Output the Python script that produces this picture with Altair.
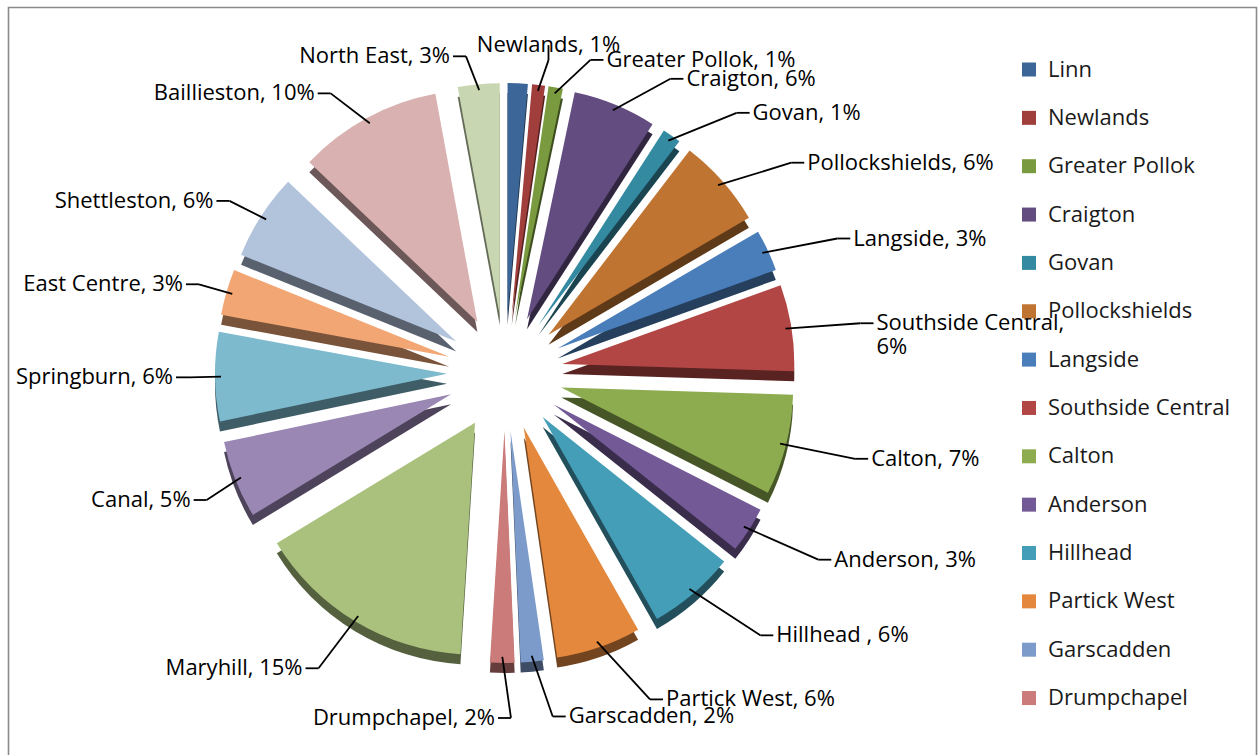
import altair as alt
import pandas as pd

# ---- data ----
names = ["Linn", "Newlands", "Greater Pollok", "Craigton", "Govan", "Pollockshields",
         "Langside", "Southside Central", "Calton", "Anderson", "Hillhead ", "Partick West",
         "Garscadden", "Drumpchapel", "Maryhill", "Canal", "Springburn", "East Centre",
         "Shettleston", "Baillieston", "North East"]
values = [1.4, 0.9, 1.0, 5.8, 1.3, 6.2,
          2.9, 6.0, 7.0, 3.2, 6.1, 5.9,
          1.6, 1.7, 15.3, 5.4, 6.2, 3.2,
          6.0, 10.0, 2.9]
legend_names = names[:14]

# ---- styles ----
face_colors = ["#3D6698", "#A03E3C", "#7A9A3F", "#634C80", "#348AA1", "#BF7432",
               "#4A7EBB", "#B24644", "#8DAC4F", "#735A97", "#449EB7", "#E4883E",
               "#7C9BCB", "#CB7B79", "#A9C17C", "#9A87B4", "#7EBACE", "#F2A674",
               "#B2C3DC", "#D9B1B0", "#C8D7B1"]


def darken(hexcol, f=0.5):
    h = hexcol.lstrip("#")
    r, g, b = (int(h[i:i + 2], 16) for i in (0, 2, 4))
    return "#%02X%02X%02X" % (int(r * f), int(g * f), int(b * f))


side_colors = [darken(c, 0.5) for c in face_colors]

CX, CY = 505, 373
R = 232
D = 58
DEPTH = 10
RXR, RXLEFT = 375, 332
RYTOP, RYBOT = 318, 345
FONT = "Open Sans"
FS = 22

df = pd.DataFrame({"name": names, "value": values, "order": list(range(len(names)))})

base = (
    alt.Chart(df)
    .transform_joinaggregate(total="sum(value)")
    .transform_window(cum="sum(value)", sort=[alt.SortField("order", order="ascending")], frame=[None, 0])
    .transform_calculate(a0="2*PI*(datum.cum - datum.value)/datum.total")
    .transform_calculate(a1="2*PI*datum.cum/datum.total")
    .transform_calculate(mid="(datum.a0 + datum.a1)/2")
    .transform_calculate(sn="sin(datum.mid)")
    .transform_calculate(cs="cos(datum.mid)")
    .transform_calculate(px=f"{CX} + {D}*datum.sn")
    .transform_calculate(py=f"{CY} - {D}*datum.cs")
    .transform_calculate(pys=f"{CY + DEPTH} - {D}*datum.cs")
    .transform_calculate(ex=f"{CX} + {D + R - 6}*datum.sn")
    .transform_calculate(ey=f"{CY} - {D + R - 6}*datum.cs")
    .transform_calculate(
        s="datum.cs < 0 ? (datum.sn >= 0 ? 1 : -1) : "
          "(datum.sn > 0.13 ? 1 : (datum.sn < -0.05 ? -1 : 0))"
    )
    .transform_calculate(
        lx=f"datum.s == 0 ? {CX} + {RXR}*datum.sn : "
           f"{CX} + (datum.sn >= 0 ? {RXR} : -{RXLEFT})*pow(abs(datum.sn), 0.75)"
    )
    .transform_calculate(
        ly=f"{CY} - (datum.cs > 0 ? {RYTOP} : {RYBOT})*datum.cs - (datum.s == 0 ? 12 : 0)"
    )
    .transform_calculate(bx="datum.s == 0 ? datum.lx : datum.lx - datum.s*16")
    .transform_calculate(by="datum.s == 0 ? datum.ly + (datum.cs > 0 ? 15 : -15) : datum.ly")
    .transform_calculate(tx="datum.lx - datum.s*3")
    .transform_calculate(pct="round(100*datum.value/datum.total)")
    .transform_calculate(lab0="datum.name + ', ' + datum.pct + '%'")
    .transform_calculate(
        lab="(datum.s == 1 && datum.lx + length(datum.lab0)*11 > 1025) ? replace(datum.lab0, ', ', ',\\n') : datum.lab0"
    )
)

frame = alt.Chart(pd.DataFrame({"k": [0]})).mark_rect(
    fillOpacity=0, stroke="#8A8A8A", strokeWidth=1.6
).encode(x=alt.value(8.5), x2=alt.value(1256.5), y=alt.value(7.5), y2=alt.value(820))

side = base.mark_arc(radius=R).encode(
    theta=alt.Theta("a0:Q", scale=None),
    theta2=alt.Theta2("a1"),
    x=alt.X("px:Q", scale=None, axis=None),
    y=alt.Y("pys:Q", scale=None, axis=None),
    color=alt.Color("name:N", scale=alt.Scale(domain=names, range=side_colors), legend=None),
)

face = base.mark_arc(radius=R).encode(
    theta=alt.Theta("a0:Q", scale=None),
    theta2=alt.Theta2("a1"),
    x=alt.X("px:Q", scale=None, axis=None),
    y=alt.Y("py:Q", scale=None, axis=None),
    color=alt.Color(
        "name:N",
        scale=alt.Scale(domain=names, range=face_colors),
        legend=alt.Legend(
            values=legend_names, title=None, orient="none", legendX=1018, legendY=58.5,
            symbolType="square", symbolSize=196, symbolStrokeWidth=0, symbolOpacity=1,
            labelFont=FONT, labelFontSize=FS, labelColor="#1A1A1A", labelOffset=8,
            labelLimit=400, rowPadding=26.35, padding=0,
        ),
    ),
)

labelled = base.transform_filter("datum.name != 'Linn'")

rule1 = labelled.mark_rule(color="black", strokeWidth=1.8).encode(
    x=alt.X("ex:Q", scale=None, axis=None), y=alt.Y("ey:Q", scale=None, axis=None),
    x2="bx:Q", y2="by:Q",
)
rule2 = labelled.mark_rule(color="black", strokeWidth=1.8).encode(
    x=alt.X("bx:Q", scale=None, axis=None), y=alt.Y("by:Q", scale=None, axis=None),
    x2="tx:Q", y2="ly:Q",
)


def text_layer(sval, align):
    return labelled.transform_filter(f"datum.s == {sval}").mark_text(
        align=align, baseline="middle", font=FONT, fontSize=FS, color="black", lineBreak="\n"
    ).encode(
        x=alt.X("lx:Q", scale=None, axis=None),
        y=alt.Y("ly:Q", scale=None, axis=None),
        text="lab:N",
    )


chart = (
    alt.layer(frame, side, face, rule1, rule2,
              text_layer(1, "left"), text_layer(-1, "right"), text_layer(0, "center"))
    .resolve_scale(color="independent")
    .properties(width=1258, height=755, autosize=alt.AutoSizeParams(type="none"), padding=0,
                background="white")
    .configure_view(stroke="transparent")
)

chart.save("out.html", embed_options={"renderer": "svg", "actions": False})
